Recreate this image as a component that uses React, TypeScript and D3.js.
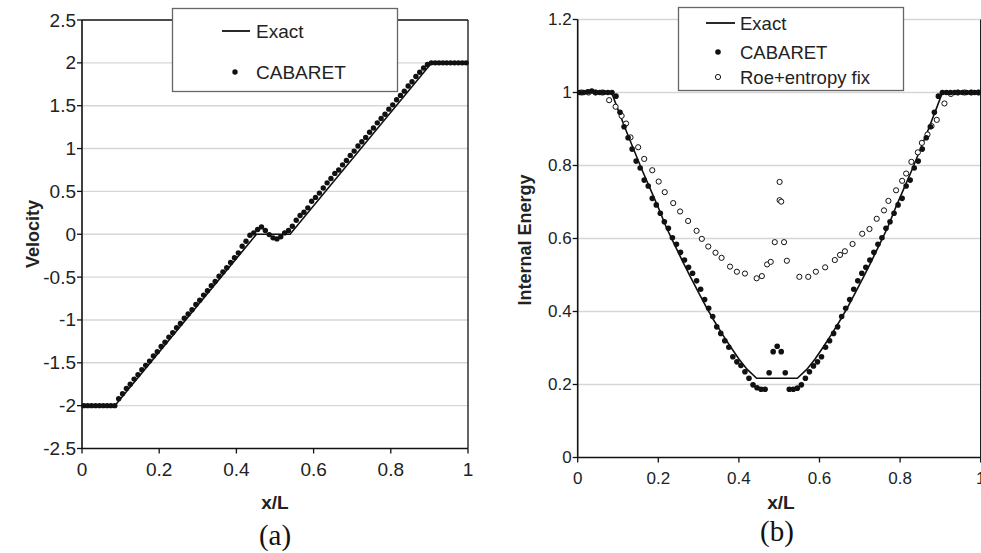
import * as React from "react";
import * as d3 from "d3";

const W = 981;
const H = 553;
const FONT = "'Liberation Sans', Arial, sans-serif";

// cell centres of the 100-cell CABARET grid
const cellX = d3.range(100).map((i) => 0.005 + i * 0.01);

const xTicks = [0, 0.2, 0.4, 0.6, 0.8, 1];
const velocityTicks = [-2.5, -2, -1.5, -1, -0.5, 0, 0.5, 1, 1.5, 2, 2.5];
const energyTicks = [0, 0.2, 0.4, 0.6, 0.8, 1, 1.2];

// (a) velocity
const velExactX = [0, 0.085, 0.452, 0.539, 0.906, 1];
const velExactY = [-2, -2, 0, 0, 2, 2];
const velCabaret = [
  -2, -2, -2, -2, -2, -2, -2, -2, -2, -1.92,
  -1.86, -1.8, -1.75, -1.69, -1.64, -1.58, -1.53, -1.48, -1.42, -1.37,
  -1.31, -1.26, -1.2, -1.15, -1.09, -1.04, -0.98, -0.93, -0.88, -0.82,
  -0.77, -0.71, -0.66, -0.6, -0.55, -0.49, -0.44, -0.39, -0.33, -0.275,
  -0.217, -0.14, -0.082, -0.012, 0.016, 0.055, 0.086, 0.043, -0.004, -0.042,
  -0.054, -0.03, 0.016, 0.043, 0.093, 0.163, 0.218, 0.257, 0.308, 0.385,
  0.43, 0.48, 0.54, 0.6, 0.65, 0.71, 0.75, 0.81, 0.86, 0.92,
  0.97, 1.03, 1.08, 1.13, 1.19, 1.24, 1.3, 1.35, 1.4, 1.46,
  1.51, 1.57, 1.62, 1.67, 1.73, 1.78, 1.84, 1.89, 1.94, 1.98,
  2, 2, 2, 2, 2, 2, 2, 2, 2, 2,
];

// (b) internal energy
const eExactX = [
  0, 0.084, 0.1, 0.12, 0.14, 0.16, 0.18, 0.2, 0.22, 0.24, 0.26, 0.28, 0.3, 0.32,
  0.34, 0.36, 0.38, 0.4, 0.42, 0.444, 0.545, 0.569, 0.589, 0.609, 0.629, 0.649,
  0.669, 0.689, 0.709, 0.729, 0.749, 0.769, 0.789, 0.809, 0.829, 0.849, 0.869,
  0.889, 0.905, 1,
];
const eExactY = [
  1, 1, 0.953, 0.896, 0.841, 0.787, 0.736, 0.685, 0.63, 0.584, 0.538, 0.494,
  0.452, 0.41, 0.372, 0.336, 0.302, 0.27, 0.242, 0.217, 0.217, 0.242, 0.27,
  0.302, 0.336, 0.372, 0.41, 0.452, 0.494, 0.538, 0.584, 0.63, 0.685, 0.736,
  0.787, 0.841, 0.896, 0.953, 1, 1,
];
const eCabaret = [
  1, 1, 1.002, 1.004, 1, 1, 1, 1, 1, 0.99,
  0.946, 0.906, 0.876, 0.845, 0.812, 0.793, 0.76, 0.744, 0.71, 0.692,
  0.669, 0.646, 0.628, 0.602, 0.584, 0.562, 0.541, 0.521, 0.505, 0.484,
  0.461, 0.433, 0.409, 0.386, 0.358, 0.34, 0.32, 0.302, 0.276, 0.262,
  0.252, 0.235, 0.217, 0.199, 0.191, 0.187, 0.187, 0.232, 0.29, 0.305,
  0.29, 0.232, 0.187, 0.187, 0.19, 0.199, 0.217, 0.235, 0.251, 0.262,
  0.276, 0.302, 0.32, 0.34, 0.358, 0.386, 0.409, 0.433, 0.461, 0.484,
  0.505, 0.521, 0.541, 0.562, 0.584, 0.602, 0.628, 0.646, 0.669, 0.692,
  0.71, 0.744, 0.76, 0.793, 0.812, 0.845, 0.876, 0.906, 0.946, 0.99,
  1, 1, 1, 1, 1, 1, 1, 1, 1, 1,
];
const roeX = [
  0.01, 0.027, 0.044, 0.061, 0.078, 0.094, 0.109, 0.12, 0.131, 0.15, 0.165,
  0.185, 0.201, 0.216, 0.237, 0.254, 0.274, 0.295, 0.308, 0.324, 0.342, 0.357,
  0.378, 0.395, 0.415, 0.444, 0.457, 0.47, 0.479, 0.489, 0.501, 0.501, 0.505,
  0.512, 0.519, 0.55, 0.572, 0.591, 0.614, 0.638, 0.651, 0.663, 0.682, 0.706,
  0.724, 0.742, 0.76, 0.771, 0.79, 0.805, 0.815, 0.828, 0.844, 0.854, 0.868,
  0.878, 0.891, 0.91, 0.926, 0.943, 0.96, 0.977, 0.994,
];
const roeY = [
  1, 1, 1, 1, 0.979, 0.961, 0.936, 0.915, 0.877, 0.85, 0.818,
  0.787, 0.756, 0.727, 0.697, 0.674, 0.648, 0.621, 0.599, 0.578, 0.561, 0.547,
  0.523, 0.509, 0.504, 0.491, 0.497, 0.529, 0.536, 0.59, 0.755, 0.705, 0.701,
  0.59, 0.539, 0.495, 0.495, 0.509, 0.521, 0.541, 0.555, 0.565, 0.585, 0.613,
  0.626, 0.654, 0.677, 0.703, 0.732, 0.758, 0.778, 0.81, 0.836, 0.862, 0.885,
  0.908, 0.925, 0.97, 0.996, 1, 1, 1, 1,
];

type AxesProps = {
  x: d3.ScaleLinear<number, number>;
  y: d3.ScaleLinear<number, number>;
  yTicks: number[];
  fontSize: number;
  xLabelDy: number;
  topBlack: boolean;
};

function Axes({ x, y, yTicks, fontSize, xLabelDy, topBlack }: AxesProps) {
  const [x0, x1] = x.range();
  const [y0, y1] = y.range();
  const last = yTicks[yTicks.length - 1];
  return (
    <g fontFamily={FONT} fontSize={fontSize} fill="#222">
      {yTicks
        .filter((t) => t !== yTicks[0] && !(topBlack && t === last))
        .map((t) => (
          <line key={"g" + t} x1={x0} x2={x1} y1={y(t)} y2={y(t)} stroke="#d6d6d6" strokeWidth={1.4} />
        ))}
      {topBlack && <line x1={x0} x2={x1} y1={y1} y2={y1} stroke="#111" strokeWidth={1.3} />}
      <line x1={x1} x2={x1} y1={y1} y2={y0} stroke="#111" strokeWidth={1.3} />
      <line x1={x0} x2={x0} y1={y1} y2={y0} stroke="#111" strokeWidth={1.6} />
      <line x1={x0} x2={x1} y1={y0} y2={y0} stroke="#111" strokeWidth={1.6} />
      {yTicks.map((t) => (
        <g key={"y" + t}>
          <line x1={x0 - 5} x2={x0} y1={y(t)} y2={y(t)} stroke="#111" strokeWidth={1.3} />
          <text x={x0 - 6} y={y(t)} textAnchor="end" dominantBaseline="central">
            {String(t)}
          </text>
        </g>
      ))}
      {xTicks.map((t) => (
        <g key={"x" + t}>
          <line x1={x(t)} x2={x(t)} y1={y0} y2={y0 + 5} stroke="#111" strokeWidth={1.3} />
          <text x={x(t)} y={y0 + xLabelDy} textAnchor="middle">
            {String(t)}
          </text>
        </g>
      ))}
    </g>
  );
}

export default function App() {
  // panel (a)
  const xa = d3.scaleLinear().domain([0, 1]).range([82, 468]);
  const ya = d3.scaleLinear().domain([-2.5, 2.5]).range([448.5, 20]);
  // panel (b)
  const xb = d3.scaleLinear().domain([0, 1]).range([577.7, 980.7]);
  const yb = d3.scaleLinear().domain([0, 1.2]).range([457.5, 19.5]);

  const lineA = d3
    .line<number>()
    .x((_, i) => xa(velExactX[i]))
    .y((d) => ya(d));
  const lineB = d3
    .line<number>()
    .x((_, i) => xb(eExactX[i]))
    .y((d) => yb(d));

  return (
    <svg
      width={W}
      height={H}
      style={{ position: "absolute", left: 0, top: 0, background: "#fff" }}
    >
      <rect width={W} height={H} fill="#fff" />

      {/* (a) */}
      <Axes x={xa} y={ya} yTicks={velocityTicks} fontSize={19} xLabelDy={27} topBlack={true} />
      <path d={lineA(velExactY) || ""} fill="none" stroke="#111" strokeWidth={1.6} />
      {velCabaret.map((v, i) => (
        <circle key={i} cx={xa(cellX[i])} cy={ya(v)} r={2.7} fill="#111" />
      ))}
      <g fontFamily={FONT} fill="#222">
        <text
          transform={`translate(33,234) rotate(-90)`}
          textAnchor="middle"
          dominantBaseline="central"
          fontWeight="bold"
          fontSize={18}
        >
          Velocity
        </text>
        <text x={275} y={509} textAnchor="middle" fontWeight="bold" fontSize={19}>
          x/L
        </text>
      </g>
      <text x={275} y={545} textAnchor="middle" fontFamily="'Liberation Serif', 'Times New Roman', serif" fontSize={29} fill="#111">
        (a)
      </text>
      <g fontFamily={FONT} fontSize={19} fill="#222">
        <rect x={172.5} y={8.5} width={225} height={83} fill="#fff" stroke="#666" strokeWidth={1.3} />
        <line x1={222} x2={250} y1={31} y2={31} stroke="#111" strokeWidth={1.8} />
        <text x={256} y={38}>Exact</text>
        <circle cx={235} cy={72} r={2.7} fill="#111" />
        <text x={256} y={79}>CABARET</text>
      </g>

      {/* (b) */}
      <Axes x={xb} y={yb} yTicks={energyTicks} fontSize={17} xLabelDy={26} topBlack={false} />
      <path d={lineB(eExactY) || ""} fill="none" stroke="#111" strokeWidth={1.6} />
      {roeY.map((v, i) => (
        <circle key={"r" + i} cx={xb(roeX[i])} cy={yb(v)} r={2.6} fill="#fff" stroke="#111" strokeWidth={1} />
      ))}
      {eCabaret.map((v, i) => (
        <circle key={"c" + i} cx={xb(cellX[i])} cy={yb(v)} r={2.8} fill="#111" />
      ))}
      <g fontFamily={FONT} fill="#222">
        <text
          transform={`translate(525,240) rotate(-90)`}
          textAnchor="middle"
          dominantBaseline="central"
          fontWeight="bold"
          fontSize={18}
        >
          Internal Energy
        </text>
        <text x={781} y={509} textAnchor="middle" fontWeight="bold" fontSize={19}>
          x/L
        </text>
      </g>
      <text x={777} y={541} textAnchor="middle" fontFamily="'Liberation Serif', 'Times New Roman', serif" fontSize={29} fill="#111">
        (b)
      </text>
      <g fontFamily={FONT} fontSize={18.5} fill="#222">
        <rect x={678.5} y={7.5} width={225} height={83} fill="#fff" stroke="#666" strokeWidth={1.3} />
        <line x1={706} x2={735} y1={23} y2={23} stroke="#111" strokeWidth={1.8} />
        <text x={740} y={30}>Exact</text>
        <circle cx={718} cy={52} r={2.8} fill="#111" />
        <text x={740} y={59}>CABARET</text>
        <circle cx={718} cy={77} r={2.6} fill="#fff" stroke="#111" strokeWidth={1} />
        <text x={740} y={84}>Roe+entropy fix</text>
      </g>
    </svg>
  );
}
